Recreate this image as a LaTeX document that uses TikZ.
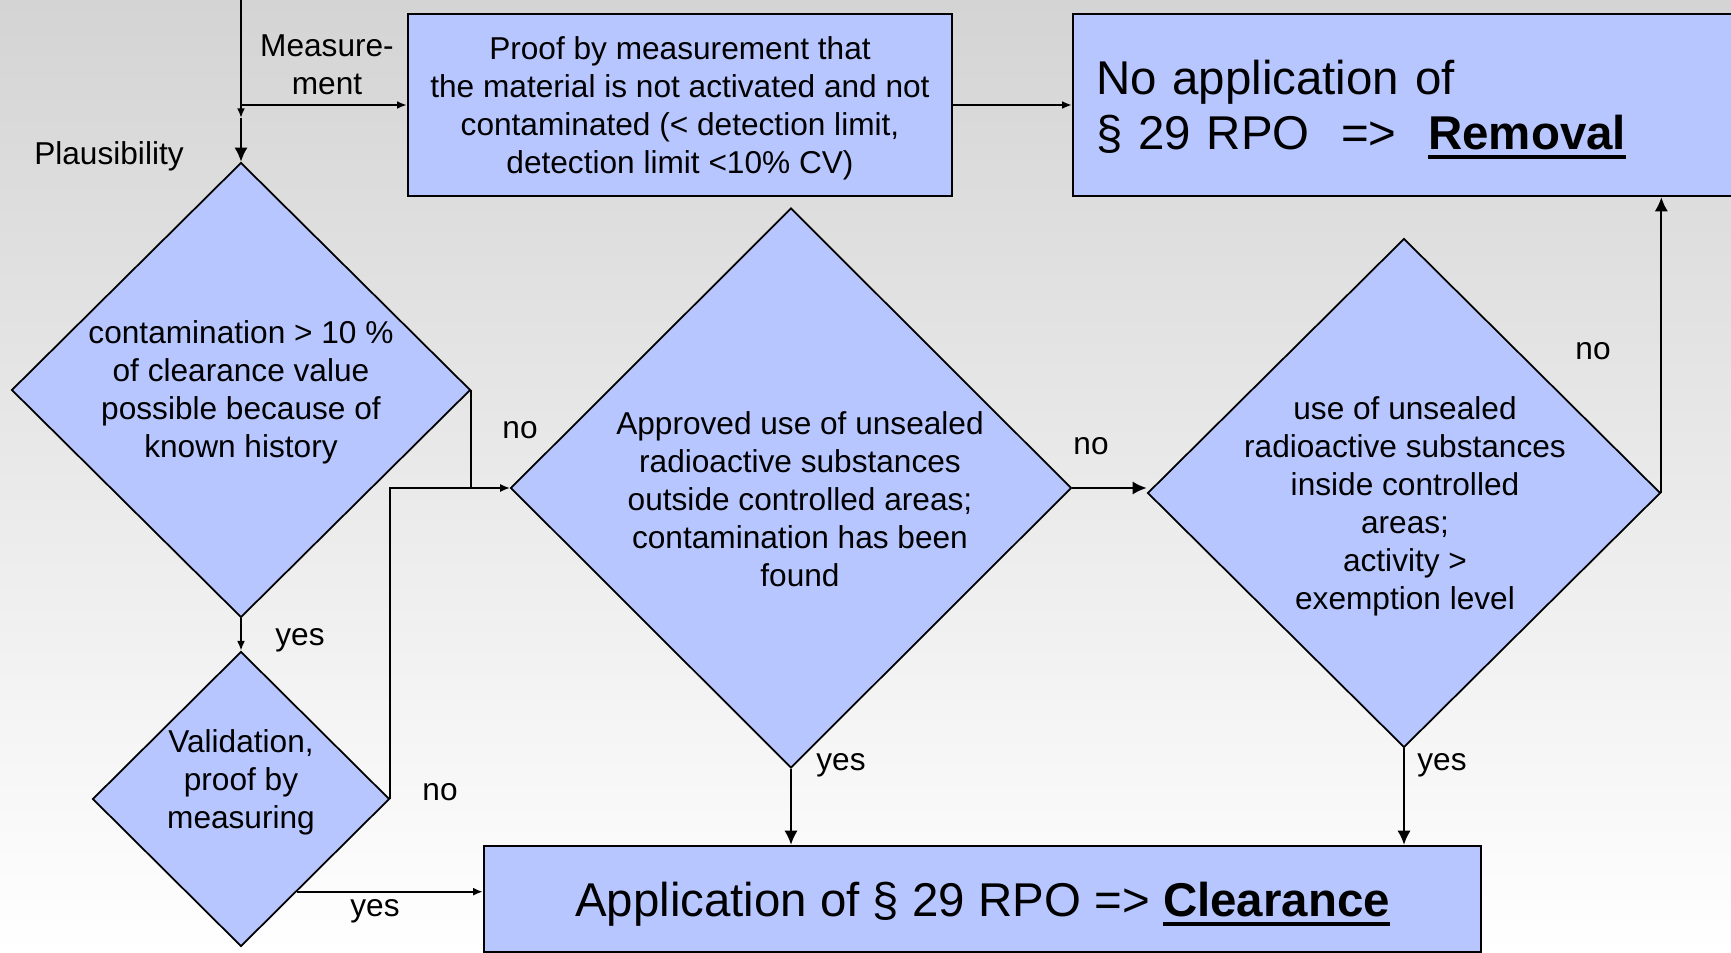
\documentclass[tikz,border=0pt]{standalone}
\usepackage{fontspec}
\setmainfont{Liberation Sans}
\usepackage{tikz}
\usetikzlibrary{shapes.geometric,arrows.meta,calc}

\definecolor{boxblue}{RGB}{183,198,255}
\definecolor{bgtop}{RGB}{212,212,212}

\newsavebox{\ulbox}
\newcommand{\thickul}[1]{\sbox{\ulbox}{#1}\rlap{\rule[-5.5pt]{\wd\ulbox}{2.2pt}}\usebox{\ulbox}}

\begin{document}
\begin{tikzpicture} [x=0.02cm, y=-0.02cm,
    box/.style = {draw,
    line width=1.4pt,
    fill=boxblue,
    inner sep=0pt,
    text depth=0pt},
    decision/.style = {draw,
    diamond,
    line width=1pt,
    fill=boxblue,
    inner sep=0pt},
    lbl/.style = {align=center, inner sep=1pt, font=\fontsize{18pt}{21.6pt}\selectfont},
    big/.style = {font=\fontsize{27pt}{31pt}\selectfont},
    arr/.style = {line width=1.1pt, -{Latex[length=8pt,width=7.5pt]}},
    sarr/.style = {line width=1.1pt, -{Latex[length=5.5pt,width=4.5pt]}}]

\useasboundingbox (0,0) rectangle (1731,953);
\fill [top color=bgtop, bottom color=white] (0,0) rectangle (1731,953);

\node (proof) at (680,105) [box, lbl, minimum width=10.88cm, minimum height=3.64cm]
  {Proof by measurement that\\ the material is not activated and not\\
   contaminated (< detection limit,\\ detection limit <10\% CV)};
\node (removal) at (1409,105) [box, big, align=left, text width=12.52cm, inner xsep=0.46cm,
  text height=20pt, text depth=31.6pt, minimum height=3.64cm]
  {No application of\\ § 29 RPO\ \ =>\ \ \thickul{\textbf{Removal}}};
\node (clear) at (982.5,899) [box, big, minimum width=19.94cm, minimum height=2.12cm]
  {Application of § 29 RPO => \thickul{\textbf{Clearance}}};

\node (hist) at (241,390) [decision, minimum width=9.18cm, minimum height=9.1cm] {};
\node (valid) at (241,799) [decision, minimum width=5.94cm, minimum height=5.9cm] {};
\node (outside) at (791,488) [decision, minimum width=11.22cm, minimum height=11.2cm] {};
\node (inside) at (1404,493) [decision, minimum width=10.26cm, minimum height=10.18cm] {};

\node (histtxt) at (241,392) [lbl] {contamination > 10 \%\\ of clearance value\\ possible because of\\ known history};
\node (validtxt) at (241,782) [lbl] {Validation,\\ proof by\\ measuring};
\node (outsidetxt) at (800,499) [lbl] {Approved use of unsealed\\ radioactive substances\\ outside controlled areas;\\ contamination has been\\ found};
\node (insidetxt) at (1405,506) [lbl] {use of unsealed\\ radioactive substances\\ inside controlled\\ areas;\\ activity >\\ exemption level};

\node (measlbl) at (327,65) [lbl] {Measure-\\ment};
\node (plaus) at (109,156) [lbl] {Plausibility};
\node (histno) at (520,430) [lbl] {no};
\node (histyes) at (300,640) [lbl] {yes};
\node (validno) at (440,792) [lbl] {no};
\node (validyes) at (375,911) [lbl] {yes};
\node (outsideno) at (1091,446) [lbl] {no};
\node (outsideyes) at (841,765) [lbl] {yes};
\node (insideno) at (1593,351) [lbl] {no};
\node (insideyes) at (1442,765) [lbl] {yes};

\coordinate (start) at (241,-5);
\coordinate (fork) at (241,105);
\coordinate (entry) at (241,118);
\coordinate (vyes) at ($(valid.south)!0.375!(valid.east)$);

\draw [sarr] (start) -- (entry);
\draw [arr] (entry) -- (hist.north);
\draw [sarr] (fork) -- (proof.west);
\draw [sarr] (proof.east) -- (removal.west);
\draw [sarr] (hist.south) -- (valid.north);
\draw [sarr] (hist.east) |- (outside.west);
\draw [sarr] (valid.east) |- (outside.west);
\draw [sarr] (vyes) -- (vyes -| clear.west);
\draw [arr] (outside.east) -- (outside.east -| inside.west);
\draw [arr] (inside.east) -- (inside.east |- removal.south);
\draw [arr] (outside.south) -- (outside.south |- clear.north);
\draw [arr] (inside.south) -- (inside.south |- clear.north);

\end{tikzpicture}
\end{document}
